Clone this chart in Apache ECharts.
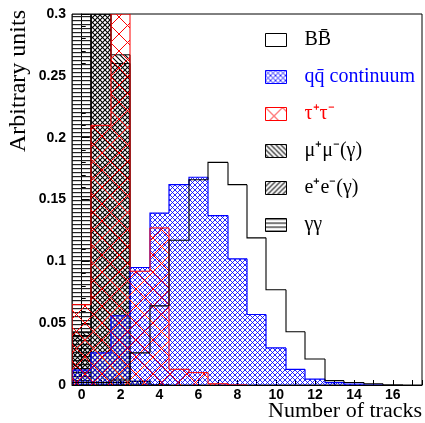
<!DOCTYPE html>
<html><head><meta charset="utf-8">
<script src="https://cdn.jsdelivr.net/npm/echarts@6/dist/echarts.min.js"></script>
<style>html,body{margin:0;padding:0;background:#fff}#c{width:425px;height:423px}</style>
</head><body><div id="c"></div>
<script>
// ---- data (bin centres = number of tracks) ----
const binCenters = [0,1,2,3,4,5,6,7,8,9,10,11,12,13,14,15,16,17];
const bbValues   = [0.002,0.002,0.004,0.026,0.064,0.117,0.166,0.180,0.162,0.119,0.077,0.043,0.021,0.0035,0.002,0.001,0,0];
const qqValues   = [0.012,0.026,0.056,0.095,0.139,0.162,0.168,0.137,0.102,0.057,0.030,0.0127,0.0048,0.0019,0.0008,0,0,0];
const tauValues  = [0.065,0.210,0.330,0.092,0.127,0.0127,0.010,0.001,0,0,0,0,0,0,0,0,0,0];
const mumuValues = [0.043,0.400,0.267,0.003,0,0,0,0,0,0,0,0,0,0,0,0,0,0];
const eeValues   = [0.040,0.400,0.260,0.003,0,0,0,0,0,0,0,0,0,0,0,0,0,0];
const ggValues   = [0.500,0.002,0.002,0,0,0,0,0,0,0,0,0,0,0,0,0,0,0];
const seriesNames = ['BB\u0304', 'qq\u0304 continuum', '\u03c4\u207a\u03c4\u207b', '\u03bc\u207a\u03bc\u207b(\u03b3)', 'e\u207ae\u207b(\u03b3)', '\u03b3\u03b3'];
const xTickLabels = ['0','2','4','6','8','10','12','14','16'];
const Y_MAX = 0.3;

// ---- hatch patterns ----
function pattern(size, draw) {
  const c = document.createElement('canvas');
  c.width = size; c.height = size;
  const g = c.getContext('2d');
  draw(g, size);
  return { image: c, repeat: 'repeat' };
}
function diag(g, s, dir) {
  g.beginPath();
  if (dir > 0) { // '/'
    g.moveTo(-1, s + 1); g.lineTo(s + 1, -1);
    g.moveTo(-1, 1); g.lineTo(1, -1);
    g.moveTo(s - 1, s + 1); g.lineTo(s + 1, s - 1);
  } else { // '\'
    g.moveTo(-1, -1); g.lineTo(s + 1, s + 1);
    g.moveTo(s - 1, -1); g.lineTo(s + 1, 1);
    g.moveTo(-1, s - 1); g.lineTo(1, s + 1);
  }
  g.stroke();
}
const qqFill = pattern(5, (g, s) => { g.strokeStyle = '#0000ff'; g.lineWidth = 0.85; diag(g, s, 1); diag(g, s, -1); });
const tauFill = pattern(17, (g, s) => { g.strokeStyle = '#ff0000'; g.lineWidth = 1; diag(g, s, 1); diag(g, s, -1); });
const mumuFill = pattern(5, (g, s) => { g.strokeStyle = '#000'; g.lineWidth = 1.1; diag(g, s, -1); });
const eeFill = pattern(5, (g, s) => { g.strokeStyle = '#000'; g.lineWidth = 1.1; diag(g, s, 1); });
const ggFill = pattern(4, (g, s) => { g.fillStyle = '#222'; g.fillRect(0, 0, s, 1.2); });

function makeHist(name, values, fill, stroke, lw) {
  return {
    type: 'custom', name: name, clip: true, coordinateSystem: 'cartesian2d',
    encode: { x: 0, y: 1 }, silent: true,
    itemStyle: { color: fill || '#ffffff', borderColor: stroke, borderWidth: 1 },
    data: binCenters.map((c, i) => [c, values[i]]),
    renderItem: function (params, api) {
      const i = params.dataIndex;
      const c = api.value(0);
      const v = Math.min(api.value(1), Y_MAX);
      const pv = i > 0 ? Math.min(values[i - 1], Y_MAX) : 0;
      const tl = api.coord([c - 0.5, v]);
      const br = api.coord([c + 0.5, 0]);
      const prevPt = api.coord([c - 0.5, pv]);
      const x0 = Math.round(tl[0]), x1 = Math.round(br[0]);
      const children = [];
      if (fill && v > 0) {
        children.push({ type: 'rect', shape: { x: x0, y: tl[1], width: x1 - x0, height: br[1] - tl[1] }, style: { fill: fill } });
      }
      const pts = [[x0, prevPt[1]], [x0, tl[1]], [x1, tl[1]]];
      if (i === values.length - 1) pts.push([x1, br[1]]);
      if (!(v === 0 && pv === 0)) {
        children.push({ type: 'polyline', shape: { points: pts }, style: { stroke: stroke, lineWidth: lw, fill: null } });
      }
      return { type: 'group', children: children };
    }
  };
}

const chart = echarts.init(document.getElementById('c'), null, { renderer: 'canvas' });
const legendFont = { fontFamily: 'Liberation Serif', fontSize: 20, lineHeight: 20, padding: [0, 0, 0, 13] };
chart.setOption({
  animation: false,
  backgroundColor: '#fff',
  grid: { left: 72, right: 2, top: 14, bottom: 38, show: true, borderColor: '#000', borderWidth: 1, backgroundColor: 'transparent' },
  xAxis: {
    type: 'value', min: -0.5, max: 17.5, minInterval: 1, maxInterval: 1, splitNumber: 18,
    splitLine: { show: false },
    axisLine: { show: true, lineStyle: { color: '#000', width: 1 } },
    axisTick: { show: true, inside: true, length: 5, lineStyle: { color: '#000' } },
    axisLabel: {
      margin: 3, color: '#000', fontFamily: 'Liberation Sans', fontWeight: 'bold', fontSize: 14,
      showMinLabel: true, showMaxLabel: true,
      formatter: function (v) { const s = String(Math.round(v)); return (Math.abs(v - Math.round(v)) < 1e-6 && xTickLabels.indexOf(s) >= 0) ? s : ''; }
    }
  },
  yAxis: {
    type: 'value', min: 0, max: 0.3, interval: 0.05,
    splitLine: { show: false },
    axisLine: { show: true, lineStyle: { color: '#000', width: 1 } },
    axisTick: { show: true, inside: true, length: 8, lineStyle: { color: '#000' } },
    minorTick: { show: true, splitNumber: 5, length: 4, lineStyle: { color: '#000' } },
    axisLabel: { margin: 6, color: '#000', fontFamily: 'Liberation Sans', fontWeight: 'bold', fontSize: 14 }
  },
  legend: {
    orient: 'vertical', left: 265, top: 30, padding: 0, icon: 'rect',
    itemWidth: 21, itemHeight: 13, itemGap: 17,
    selectedMode: false,
    textStyle: legendFont,
    data: [
      { name: seriesNames[0], itemStyle: { color: '#ffffff', borderColor: '#000', borderWidth: 1 }, textStyle: { color: '#000' } },
      { name: seriesNames[1], itemStyle: { color: qqFill, borderColor: '#0000ff', borderWidth: 1 }, textStyle: { color: '#0000ff' } },
      { name: seriesNames[2], itemStyle: { color: tauFill, borderColor: '#ff0000', borderWidth: 1 }, textStyle: { color: '#ff0000' } },
      { name: seriesNames[3], itemStyle: { color: mumuFill, borderColor: '#000', borderWidth: 1 }, textStyle: { color: '#000' } },
      { name: seriesNames[4], itemStyle: { color: eeFill, borderColor: '#000', borderWidth: 1 }, textStyle: { color: '#000' } },
      { name: seriesNames[5], itemStyle: { color: ggFill, borderColor: '#000', borderWidth: 1 }, textStyle: { color: '#000' } }
    ]
  },
  graphic: [
    { type: 'text', x: 19, y: 10, rotation: Math.PI / 2, silent: true,
      style: { text: 'Arbitrary units', font: '24px "Liberation Serif"', fill: '#000', align: 'right', textAlign: 'right', verticalAlign: 'middle', textVerticalAlign: 'middle' } },
    { type: 'text', x: 422, y: 411, silent: true,
      style: { text: 'Number of tracks', font: '22px "Liberation Serif"', fill: '#000', align: 'right', textAlign: 'right', verticalAlign: 'middle', textVerticalAlign: 'middle' } }
  ],
  series: [
    makeHist(seriesNames[5], ggValues, ggFill, '#000', 1),
    makeHist(seriesNames[4], eeValues, eeFill, '#000', 1),
    makeHist(seriesNames[3], mumuValues, mumuFill, '#000', 1),
    makeHist(seriesNames[1], qqValues, qqFill, '#0000ff', 1.2),
    makeHist(seriesNames[2], tauValues, tauFill, '#ff0000', 1),
    makeHist(seriesNames[0], bbValues, null, '#000', 1.1)
  ]
});
</script></body></html>
